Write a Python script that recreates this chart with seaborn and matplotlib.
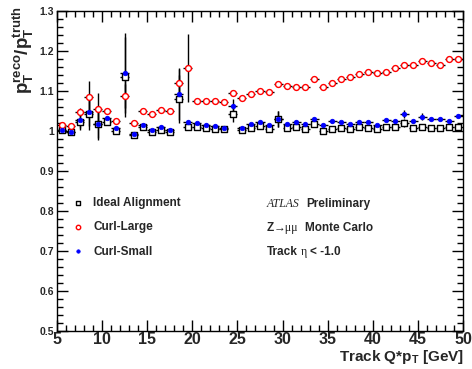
import matplotlib
matplotlib.use("Agg")
import matplotlib.pyplot as plt
import seaborn as sns
import pandas as pd
from matplotlib.ticker import MultipleLocator

# bin centres of track Q*pT [GeV]
pt_bins = [5.5, 6.5, 7.5, 8.5, 9.5, 10.5, 11.5, 12.5, 13.5, 14.5,
           15.5, 16.5, 17.5, 18.5, 19.5, 20.5, 21.5, 22.5, 23.5, 24.5,
           25.5, 26.5, 27.5, 28.5, 29.5, 30.5, 31.5, 32.5, 33.5, 34.5,
           35.5, 36.5, 37.5, 38.5, 39.5, 40.5, 41.5, 42.5, 43.5, 44.5,
           45.5, 46.5, 47.5, 48.5, 49.5]

ideal = [1.002, 0.997, 1.022, 1.042, 1.0175, 1.023, 1.0, 1.134, 0.99, 1.01,
         0.997, 1.003, 0.998, 1.08, 1.011, 1.009, 1.007, 1.006, 1.005, 1.042,
         1.0025, 1.008, 1.0125, 1.005, 1.031, 1.008, 1.009, 1.005, 1.0175, 1.0,
         1.006, 1.007, 1.006, 1.009, 1.008, 1.006, 1.009, 1.009, 1.019, 1.008,
         1.011, 1.007, 1.007, 1.009, 1.011]
ideal_err = [0.004, 0.004, 0.02, 0.04, 0.04, 0.006, 0.005, 0.1, 0.004, 0.005,
             0.004, 0.004, 0.004, 0.06, 0.005, 0.004, 0.004, 0.004, 0.004, 0.02,
             0.004, 0.004, 0.004, 0.004, 0.02, 0.004, 0.004, 0.004, 0.005, 0.004,
             0.004, 0.004, 0.004, 0.004, 0.004, 0.004, 0.004, 0.004, 0.01, 0.004,
             0.006, 0.004, 0.004, 0.004, 0.005]

curl_large = [1.015, 1.012, 1.047, 1.086, 1.054, 1.05, 1.025, 1.087, 1.021, 1.05,
              1.043, 1.052, 1.051, 1.121, 1.158, 1.075, 1.076, 1.075, 1.073, 1.096,
              1.082, 1.092, 1.101, 1.097, 1.117, 1.112, 1.111, 1.109, 1.13, 1.111,
              1.12, 1.129, 1.136, 1.142, 1.147, 1.144, 1.148, 1.158, 1.165, 1.165,
              1.176, 1.171, 1.164, 1.181, 1.181]
curl_large_err = [0.004, 0.004, 0.01, 0.04, 0.04, 0.006, 0.005, 0.03, 0.004, 0.004,
                  0.004, 0.004, 0.004, 0.035, 0.085, 0.004, 0.004, 0.004, 0.004, 0.006,
                  0.004, 0.004, 0.004, 0.004, 0.008, 0.004, 0.004, 0.004, 0.005, 0.004,
                  0.004, 0.004, 0.004, 0.004, 0.004, 0.004, 0.004, 0.004, 0.008, 0.004,
                  0.006, 0.004, 0.004, 0.004, 0.005]

curl_small = [1.003, 0.997, 1.028, 1.047, 1.0175, 1.032, 1.007, 1.146, 0.993, 1.014,
              1.002, 1.01, 1.003, 1.092, 1.023, 1.019, 1.015, 1.0125, 1.008, 1.0625,
              1.008, 1.017, 1.0225, 1.014, 1.031, 1.0175, 1.023, 1.0175, 1.029, 1.015,
              1.025, 1.022, 1.017, 1.023, 1.023, 1.014, 1.0275, 1.025, 1.042, 1.025,
              1.036, 1.03, 1.03, 1.025, 1.0375]
curl_small_err = [0.004, 0.004, 0.02, 0.035, 0.035, 0.006, 0.005, 0.1, 0.004, 0.005,
                  0.004, 0.004, 0.004, 0.065, 0.005, 0.004, 0.004, 0.004, 0.004, 0.017,
                  0.004, 0.004, 0.004, 0.004, 0.02, 0.004, 0.004, 0.004, 0.005, 0.004,
                  0.004, 0.004, 0.004, 0.004, 0.004, 0.004, 0.004, 0.004, 0.01, 0.004,
                  0.008, 0.004, 0.004, 0.004, 0.006]

df = pd.DataFrame({"pt": pt_bins, "ideal": ideal, "large": curl_large, "small": curl_small})

sns.set_theme(style="ticks")
plt.rcParams["font.family"] = ["Liberation Sans", "DejaVu Sans"]
plt.rcParams["font.weight"] = "bold"
plt.rcParams["mathtext.fontset"] = "custom"
plt.rcParams["mathtext.rm"] = "Liberation Sans:bold"
plt.rcParams["mathtext.bf"] = "Liberation Sans:bold"
plt.rcParams["mathtext.it"] = "Liberation Sans:bold"

W, H = 472, 369
fig = plt.figure(figsize=(W / 100, H / 100), dpi=100)
ax = fig.add_axes([57 / W, 1 - 331 / H, (463 - 57) / W, (331 - 11) / H])

# error bars (black, ROOT style)
for ycol, err in [("ideal", ideal_err), ("large", curl_large_err), ("small", curl_small_err)]:
    ax.errorbar(df["pt"], df[ycol], xerr=0.5, yerr=err, fmt="none",
                ecolor="black", elinewidth=1.0, capsize=0, zorder=2)

sns.scatterplot(data=df, x="pt", y="ideal", ax=ax, marker="s", s=15,
                facecolor="white", edgecolor="black", linewidth=1.0,
                label="Ideal Alignment", zorder=3)
sns.scatterplot(data=df, x="pt", y="large", ax=ax, marker="o", s=18,
                facecolor="white", edgecolor="red", linewidth=1.0,
                label="Curl-Large", zorder=4)
sns.scatterplot(data=df, x="pt", y="small", ax=ax, marker="o", s=11,
                color="blue", edgecolor="blue", linewidth=0.5,
                label="Curl-Small", zorder=5)

ax.set_xlim(5, 50)
ax.set_ylim(0.5, 1.3)
ax.xaxis.set_major_locator(MultipleLocator(5))
ax.xaxis.set_minor_locator(MultipleLocator(1))
ax.yaxis.set_major_locator(MultipleLocator(0.1))
ax.yaxis.set_minor_locator(MultipleLocator(0.02))
ax.set_yticks([0.5, 0.6, 0.7, 0.8, 0.9, 1.0, 1.1, 1.2, 1.3])
ax.set_yticklabels(["0.5", "0.6", "0.7", "0.8", "0.9", "1", "1.1", "1.2", "1.3"])
ax.tick_params(which="both", direction="in", top=True, right=True, color="black", width=1)
ax.tick_params(which="major", length=8)
ax.tick_params(which="minor", length=4)
ax.tick_params(axis="x", labelsize=11.5, pad=1)
ax.tick_params(axis="y", labelsize=7.5, pad=2)
for sp in ax.spines.values():
    sp.set_color("black")
    sp.set_linewidth(1)

ax.set_xlabel("")
ax.set_ylabel("")

leg = ax.legend(loc="upper left", bbox_to_anchor=((66 - 57) / 406, (331 - 192) / 320),
                frameon=False, fontsize=8.5, handletextpad=0.7, labelspacing=1.05,
                handlelength=1.2, borderaxespad=0, markerscale=0.75)
for t in leg.get_texts():
    t.set_fontweight("bold")

def px(x, y):
    return x / W, 1 - y / H

fig.text(*px(464, 361), r"Track Q*p$_{\mathrm{T}}$ [GeV]", ha="right", va="baseline",
         fontsize=11, fontweight="bold")
fig.text(*px(11, 6), r"$\mathbf{p_T^{reco}/p_T^{truth}}$", rotation=90, ha="left", va="top",
         fontsize=13.5, fontweight="bold")

# annotation block
fs = 8.5
fig.text(*px(267, 207), "ATLAS", family=["Liberation Serif"], style="italic",
         fontweight="normal", fontsize=fs, va="baseline")
fig.text(*px(306, 207), "Preliminary", fontsize=fs, fontweight="bold", va="baseline")
fig.text(*px(267, 231), "Z", fontsize=fs, fontweight="bold", va="baseline")
fig.text(*px(273.5, 231), "\u2192\u03bc\u03bc", family=["Liberation Serif", "DejaVu Serif"],
         fontweight="normal", fontsize=fs, va="baseline")
fig.text(*px(305, 231), "Monte Carlo", fontsize=fs, fontweight="bold", va="baseline")
fig.text(*px(267, 255), "Track", fontsize=fs, fontweight="bold", va="baseline")
fig.text(*px(300.5, 255), "\u03b7", family=["Liberation Serif", "DejaVu Serif"],
         fontweight="normal", fontsize=fs, va="baseline")
fig.text(*px(309.5, 255), "< -1.0", fontsize=fs, fontweight="bold", va="baseline")

fig.savefig("out.png", dpi=100)
